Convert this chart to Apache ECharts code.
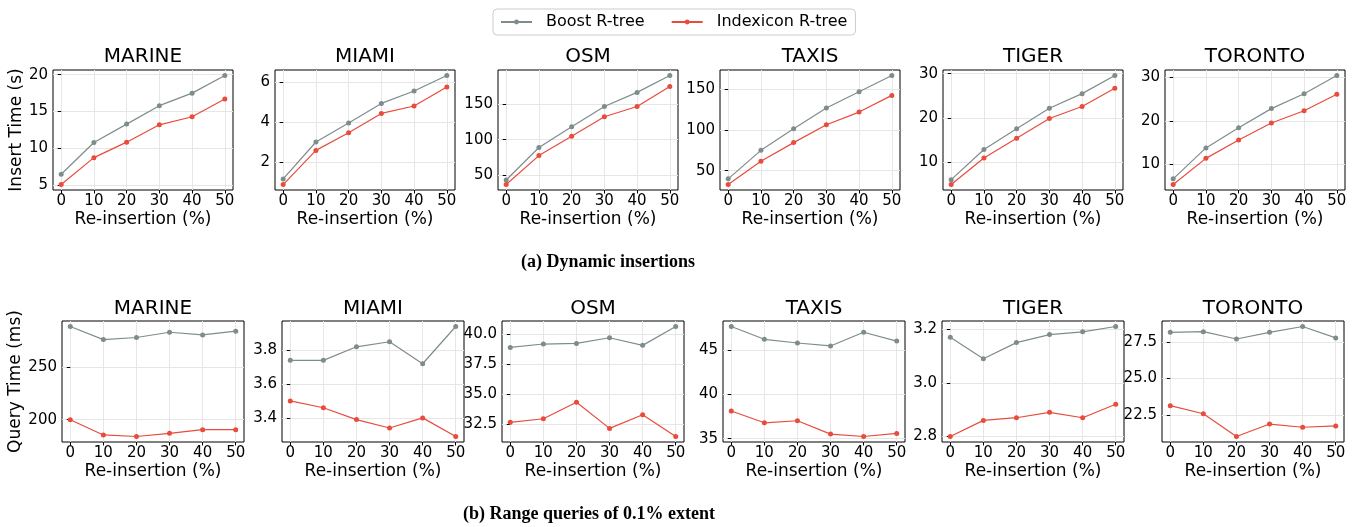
<!DOCTYPE html>
<html><head><meta charset="utf-8">
<script src="https://cdn.jsdelivr.net/npm/echarts@6/dist/echarts.min.js"></script>
<style>html,body{margin:0;padding:0;background:#fff}#c{width:1359px;height:527px}</style>
</head><body><div id="c"></div>
<script>
const xValues = [0, 10, 20, 30, 40, 50];
const datasets = ['MARINE', 'MIAMI', 'OSM', 'TAXIS', 'TIGER', 'TORONTO'];
const seriesNames = ['Boost R-tree', 'Indexicon R-tree'];

const insertBoost = [
  [6.5, 10.8, 13.3, 15.8, 17.5, 19.9],
  [1.15, 3.0, 3.95, 4.93, 5.55, 6.33],
  [43, 89, 118.5, 147, 167, 191],
  [40, 75, 101.5, 127, 147, 167],
  [6.1, 12.9, 17.6, 22.2, 25.5, 29.6],
  [6.7, 13.8, 18.4, 22.8, 26.2, 30.4]
];
const insertIndexicon = [
  [5.1, 8.75, 10.85, 13.2, 14.3, 16.7],
  [0.87, 2.58, 3.46, 4.43, 4.8, 5.75],
  [36.5, 77.5, 105, 132.5, 147, 175.5],
  [33, 61.5, 84.5, 106.5, 122, 142.5],
  [5.0, 11.0, 15.45, 19.9, 22.6, 26.7],
  [5.4, 11.4, 15.6, 19.5, 22.3, 26.1]
];
const queryBoost = [
  [289, 276.5, 278.5, 283.5, 281, 284.5],
  [3.74, 3.74, 3.82, 3.85, 3.72, 3.94],
  [38.87, 39.15, 39.2, 39.67, 39.04, 40.6],
  [47.7, 46.25, 45.83, 45.5, 47.05, 46.05],
  [3.17, 3.09, 3.15, 3.18, 3.19, 3.21],
  [28.15, 28.2, 27.7, 28.15, 28.55, 27.77]
];
const queryIndexicon = [
  [200, 185.5, 184, 187, 190.5, 190.5],
  [3.5, 3.46, 3.39, 3.34, 3.40, 3.29],
  [32.67, 32.97, 34.33, 32.17, 33.3, 31.5],
  [38.13, 36.8, 37.03, 35.52, 35.25, 35.6],
  [2.80, 2.86, 2.87, 2.89, 2.87, 2.92],
  [23.15, 22.6, 21.05, 21.9, 21.68, 21.77]
];
const insertTicks = [[5, 10, 15, 20], [2, 4, 6], [50, 100, 150], [50, 100, 150], [10, 20, 30], [10, 20, 30]];
const insertDecimals = [0, 0, 0, 0, 0, 0];
const queryTicks = [[200, 250], [3.4, 3.6, 3.8], [32.5, 35, 37.5, 40], [35, 40, 45], [2.8, 3.0, 3.2], [22.5, 25, 27.5]];
const queryDecimals = [0, 1, 1, 0, 1, 1];
const xTicks = [0, 10, 20, 30, 40, 50];

const texts = {
  xName: 'Re-insertion (%)',
  insertY: 'Insert Time (s)',
  queryY: 'Query Time (ms)',
  capA: '(a) Dynamic insertions',
  capB: '(b) Range queries of 0.1% extent'
};

const colors = ['#7f8c8d', '#e74c3c'];
const FONT = 'DejaVu Sans';

const rows = [
  {lefts: [53, 275, 498, 720, 943, 1165], width: 180, top: 70, height: 120, titleTop: 47,
   a: insertBoost, b: insertIndexicon, ticks: insertTicks, dec: insertDecimals, yName: texts.insertY, yGap: 27},
  {lefts: [62, 282, 502, 723, 942, 1162], width: 182, top: 321, height: 121, titleTop: 299,
   a: queryBoost, b: queryIndexicon, ticks: queryTicks, dec: queryDecimals, yName: texts.queryY, yGap: 37}
];

const grid = [], xAxis = [], yAxis = [], series = [], title = [];
let idx = 0;
rows.forEach((row, r) => {
  datasets.forEach((name, i) => {
    const all = row.a[i].concat(row.b[i]);
    const lo = Math.min(...all), hi = Math.max(...all);
    const pad = (hi - lo) * 0.05;
    const dec = row.dec[i];
    grid.push({left: row.lefts[i], top: row.top, width: row.width, height: row.height,
      show: true, borderColor: '#000', borderWidth: 1, backgroundColor: 'transparent', containLabel: false});
    xAxis.push({type: 'value', gridIndex: idx, min: -2.5, max: 52.5,
      name: texts.xName, nameLocation: 'middle', nameGap: 21,
      nameTextStyle: {fontFamily: FONT, fontSize: 17, color: '#000'},
      axisLine: {show: false},
      axisTick: {show: true, inside: false, length: 3.5, customValues: xTicks, lineStyle: {color: '#000', width: 1}},
      axisLabel: {customValues: xTicks, fontFamily: FONT, fontSize: 15, color: '#000', margin: 4},
      splitLine: {show: true, lineStyle: {color: '#e6e6e6', width: 1}}
    });
    yAxis.push({type: 'value', gridIndex: idx, min: lo - pad, max: hi + pad,
      name: i === 0 ? row.yName : '', nameLocation: 'middle', nameGap: row.yGap,
      nameTextStyle: {fontFamily: FONT, fontSize: 17, color: '#000'},
      axisLine: {show: false},
      axisTick: {show: true, inside: false, length: 3.5, customValues: row.ticks[i], lineStyle: {color: '#000', width: 1}},
      axisLabel: {customValues: row.ticks[i], fontFamily: FONT, fontSize: 15, color: '#000', margin: 5,
        formatter: v => Number(v).toFixed(dec)},
      splitLine: {show: true, lineStyle: {color: '#e6e6e6', width: 1}}
    });
    [row.a[i], row.b[i]].forEach((vals, s) => {
      series.push({type: 'line', name: seriesNames[s], xAxisIndex: idx, yAxisIndex: idx,
        data: xValues.map((x, k) => [x, vals[k]]),
        symbol: 'circle', symbolSize: 5, showSymbol: true,
        itemStyle: {color: colors[s]}, lineStyle: {color: colors[s], width: 1.2},
        animation: false, silent: true});
    });
    title.push({text: name, left: row.lefts[i] + row.width / 2, top: row.titleTop, textAlign: 'center',
      textStyle: {fontFamily: FONT, fontSize: 20, fontWeight: 'normal', color: '#000'}, padding: 0});
    idx++;
  });
});
title.push({text: texts.capA, left: 608, top: 253, textAlign: 'center', padding: 0,
  textStyle: {fontFamily: 'Liberation Serif', fontSize: 18, fontWeight: 'bold', color: '#000'}});
title.push({text: texts.capB, left: 589, top: 505, textAlign: 'center', padding: 0,
  textStyle: {fontFamily: 'Liberation Serif', fontSize: 18, fontWeight: 'bold', color: '#000'}});

const chart = echarts.init(document.getElementById('c'), null, {renderer: 'canvas'});
chart.setOption({
  backgroundColor: '#fff',
  animation: false,
  title: title,
  legend: {data: seriesNames, top: 9, left: 493, itemWidth: 31, itemHeight: 6, itemGap: 26,
    padding: [5, 8, 5, 7], borderColor: '#cccccc', borderWidth: 1, borderRadius: 4,
    textStyle: {fontFamily: FONT, fontSize: 16, color: '#000', padding: [0, 0, 0, 9]}},
  grid: grid, xAxis: xAxis, yAxis: yAxis, series: series
});
</script></body></html>
